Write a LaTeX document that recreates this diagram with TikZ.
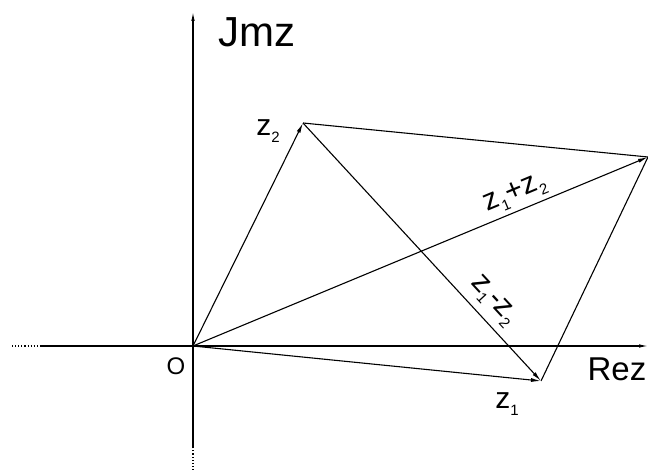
\documentclass[tikz,border=0pt]{standalone}
\usepackage{fontspec}
\setmainfont{Liberation Sans}
\usetikzlibrary{arrows.meta}
\newcommand\zs[1]{z\raisebox{-0.22em}{\fontsize{15}{15}\selectfont#1}}
\begin{document}
\begin{tikzpicture}[x=1pt,y=-1pt,
  vec/.style={line width=1.1pt,-{Latex[length=10pt,width=4pt]}},
  side/.style={line width=1.1pt},
  axis/.style={line width=1.1pt,-{Latex[length=9pt,width=3.5pt]}},
  lbl/.style={inner sep=1pt,font=\fontsize{30}{30}\selectfont}]
\useasboundingbox (0,0) rectangle (648,470);
\coordinate (O) at (193,346);
\coordinate (Z1) at (541,381);
\coordinate (Z2) at (303,123);
\coordinate (S) at (648,157);
\coordinate (xl) at (40,346);
\coordinate (xll) at (12,346);
\coordinate (xr) at (648,346);
\coordinate (yb) at (193,447);
\coordinate (ybb) at (193,470);
\coordinate (yt) at (193,12);
\coordinate (ps) at (521,207);
\coordinate (pd) at (483,310);
% axes
\draw[axis] (xl) -- (xr);
\draw[line width=1.1pt,dotted] (xll) -- (xl);
\draw[axis] (yb) -- (yt);
\draw[line width=1.1pt,dotted] (ybb) -- (yb);
% vectors
\draw[vec] (O) -- (Z1);
\draw[vec] (O) -- (Z2);
\draw[vec] (O) -- (S);
\draw[vec] (Z2) -- (Z1);
\draw[side] (Z2) -- (S);
\draw[side] (Z1) -- (S);
% labels
\node[lbl,font=\fontsize{42}{42}\selectfont] (im) at (257,32) {Jmz};
\node[lbl,font=\fontsize{33}{33}\selectfont] (re) at (617,369) {Rez};
\node[lbl,font=\fontsize{24}{24}\selectfont] (o) at (176,366) {O};
\node[lbl] (l2) at (268,131) {\zs{2}};
\node[lbl] (l1) at (507,404) {\zs{1}};
\node[lbl,rotate=22.6,anchor=south,inner sep=2pt] (ls) at (ps) {\zs{1}+\zs{2}};
\node[lbl,rotate=-47.3,anchor=south,inner sep=2pt] (ld) at (pd) {\zs{1}-\zs{2}};
\end{tikzpicture}
\end{document}
